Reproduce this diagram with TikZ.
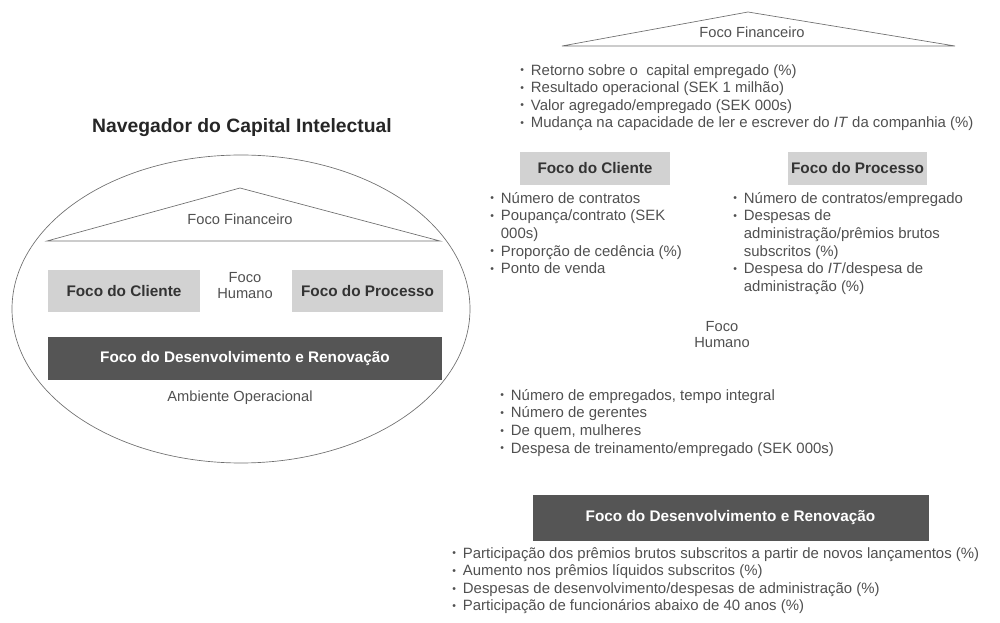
\documentclass[tikz,border=0pt]{standalone}
\usepackage{fontspec}
\setmainfont{Liberation Sans}
\usetikzlibrary{positioning}

\definecolor{inkgray}{HTML}{505050}
\definecolor{linegray}{HTML}{6E6E6E}
\definecolor{lightfill}{HTML}{D2D2D2}
\definecolor{darkfill}{HTML}{555555}

\newcommand{\blt}{\makebox[8pt][l]{\raisebox{1pt}{\scalebox{0.7}{\textbullet}}}}
\newcommand{\hng}{\hspace*{8pt}}

\tikzset{
  plain/.style={text=inkgray, font=\fontsize{11}{12}\selectfont, inner sep=0pt, align=center},
  lightbox/.style={fill=lightfill, text=black!80, font=\fontsize{11.5}{13}\selectfont\bfseries, inner sep=0pt},
  darkbox/.style={fill=darkfill, text=white, font=\fontsize{11.5}{13}\selectfont\bfseries, inner sep=0pt},
  bulletlist/.style={text=inkgray, font=\fontsize{11.2}{13.2}\selectfont, inner sep=0pt, align=left, anchor=north west},
  outline/.style={draw=linegray, line width=0.5pt}
}

\begin{document}
\begin{tikzpicture}[x=0.75pt,y=0.75pt,yscale=-1,xscale=1]
	\useasboundingbox (0,0) rectangle (1000,623);
	% left: the navigator
	\node[font=\fontsize{14.5}{16}\selectfont\bfseries, text=black!85, inner sep=0pt] (title) at (242,128) {Navegador do Capital Intelectual};
	\draw[outline] (241,309) ellipse (229 and 154);
	\draw[outline] (47,241) -- (240,188) -- (440,241) -- cycle;
	\node[plain] (finL) at (240,219) {Foco Financeiro};
	\node[lightbox, minimum width=114pt, minimum height=31.5pt] (clienteL) at (124,291) {Foco do Cliente};
	\node[lightbox, minimum width=113.25pt, minimum height=31.5pt] (processoL) at (367.5,291) {Foco do Processo};
	\node[plain] (humanoL) at (245,286) {Foco\\Humano};
	\node[darkbox, minimum width=295.5pt, minimum height=32.25pt] (desenvL) at (245,358.5) {Foco do Desenvolvimento e Renovação};
	\node[plain] (ambiente) at (240,398) {Ambiente Operacional};

	% right: the measures
	\draw[outline] (562,46) -- (748,12) -- (955,46) -- cycle;
	\node[plain] (finR) at (752,32) {Foco Financeiro};
	\node[bulletlist] (finList) at (520,64) {\blt Retorno sobre o\ \ capital empregado (\%)\\
		\blt Resultado operacional (SEK 1 milhão)\\
		\blt Valor agregado/empregado (SEK 000s)\\
		\blt Mudança na capacidade de ler e escrever do \textit{IT} da companhia (\%)};

	\node[lightbox, minimum width=112.5pt, minimum height=24.75pt] (clienteR) at (595,168.5) {Foco do Cliente};
	\node[lightbox, minimum width=104.25pt, minimum height=24.75pt] (processoR) at (857.5,168.5) {Foco do Processo};
	\node[bulletlist] (clienteList) at (490,192) {\blt Número de contratos\\
		\blt Poupança/contrato (SEK\\
		\hng 000s)\\
		\blt Proporção de cedência (\%)\\
		\blt Ponto de venda};
	\node[bulletlist] (processoList) at (733,192) {\blt Número de contratos/empregado\\
		\blt Despesas de\\
		\hng administração/prêmios brutos\\
		\hng subscritos (\%)\\
		\blt Despesa do \textit{IT}/despesa de\\
		\hng administração (\%)};

	\node[plain] (humanoR) at (722,335) {Foco\\Humano};
	\node[bulletlist] (humanoList) at (500,389) {\blt Número de empregados, tempo integral\\
		\blt Número de gerentes\\
		\blt De quem, mulheres\\
		\blt Despesa de treinamento/empregado (SEK 000s)};

	\node[darkbox, minimum width=297pt, minimum height=34.5pt] (desenvR) at (730.5,518) {Foco do Desenvolvimento e Renovação};
	\node[bulletlist] (desenvList) at (452,547) {\blt Participação dos prêmios brutos subscritos a partir de novos lançamentos (\%)\\
		\blt Aumento nos prêmios líquidos subscritos (\%)\\
		\blt Despesas de desenvolvimento/despesas de administração (\%)\\
		\blt Participação de funcionários abaixo de 40 anos (\%)};
\end{tikzpicture}
\end{document}
